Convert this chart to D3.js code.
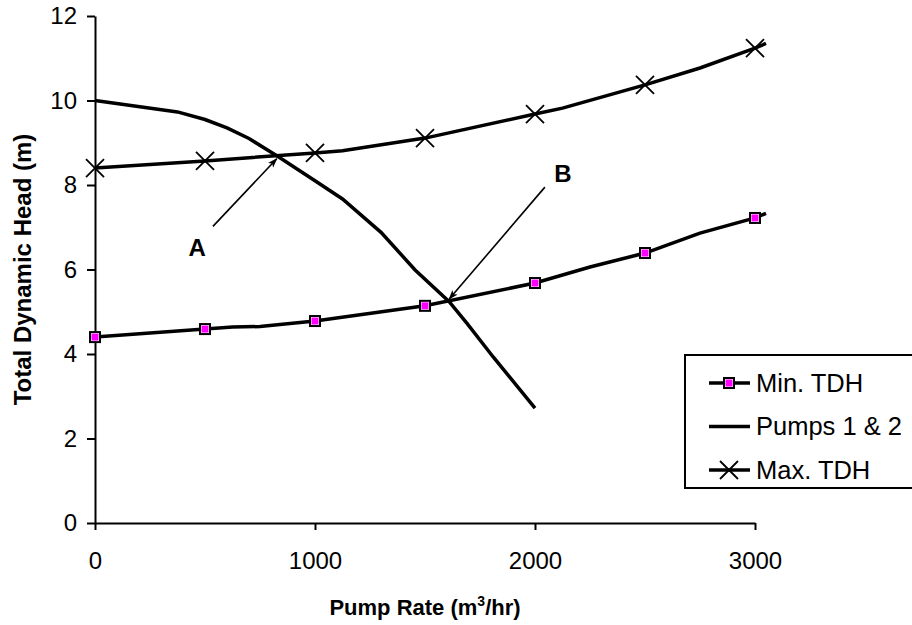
<!DOCTYPE html>
<html lang="en">
<head>
<meta charset="UTF-8">
<title>Pump curves</title>
<script src="https://d3js.org/d3.v7.min.js"></script>
<style>
body { margin: 0; background: #fff; }
svg { display: block; font-family: "Liberation Sans", Arial, sans-serif; }
.axis path, .axis line { stroke: #000; stroke-width: 2; }
.axis text { font-size: 24px; fill: #000; }
.title { font-weight: bold; }
</style>
</head>
<body>
<svg width="912" height="625"></svg>
<script>
// marker points (every 500 m3/hr)
const markerRates = [0, 500, 1000, 1500, 2000, 2500, 3000];
const minTDH = [4.40, 4.59, 4.78, 5.14, 5.68, 6.39, 7.22];
const maxTDH = [8.40, 8.57, 8.76, 9.11, 9.68, 10.37, 11.24];

// line points (the plotted curves carry a few extra points between markers)
const minLineRates = [0, 500, 625, 750, 1000, 1500, 2000, 2250, 2500, 2750, 3000, 3050];
const minLineHead  = [4.40, 4.59, 4.64, 4.65, 4.78, 5.14, 5.68, 6.06, 6.39, 6.86, 7.22, 7.33];
const maxLineRates = [0, 500, 1000, 1125, 1500, 2000, 2125, 2500, 2750, 3000, 3050];
const maxLineHead  = [8.40, 8.57, 8.76, 8.81, 9.11, 9.68, 9.82, 10.37, 10.77, 11.24, 11.35];
const pumpRates = [0, 375, 500, 600, 700, 830, 1000, 1125, 1300, 1455, 1610, 1690, 1810, 2000];
const pumpHead  = [10.0, 9.73, 9.55, 9.35, 9.10, 8.68, 8.10, 7.67, 6.88, 5.99, 5.24, 4.73, 3.93, 2.72];

const xTicks = [0, 1000, 2000, 3000];
const yTicks = [0, 2, 4, 6, 8, 10, 12];

// annotations: label, label position, arrow start, arrow tip (data units)
const notes = [
  {label: "A", at: [464, 6.53], from: [536, 7.02], to: [826, 8.62]},
  {label: "B", at: [2127, 8.28], from: [2045, 7.95], to: [1610, 5.30]}
];
const legendItems = ["Min. TDH", "Pumps 1 & 2", "Max. TDH"];

const margin = {top: 16, left: 95};
const width = 660, height = 507;

const svg = d3.select("svg");
const defs = svg.append("defs");
defs.append("marker")
    .attr("id", "arrow")
    .attr("viewBox", "0 0 10 10")
    .attr("refX", 9).attr("refY", 5)
    .attr("markerWidth", 10).attr("markerHeight", 10)
    .attr("markerUnits", "userSpaceOnUse")
    .attr("orient", "auto")
    .append("path")
    .attr("d", "M0,1.5 L10,5 L0,8.5 L2.5,5 Z")
    .attr("fill", "#000");

const g = svg.append("g").attr("transform", `translate(${margin.left},${margin.top})`);

const x = d3.scaleLinear().domain([0, 3000]).range([0, width]);
const y = d3.scaleLinear().domain([0, 12]).range([height, 0]);

// axes
g.append("g")
    .attr("class", "axis")
    .attr("transform", `translate(0,${height})`)
    .call(d3.axisBottom(x).tickValues(xTicks).tickFormat(d3.format("d"))
        .tickSize(7).tickPadding(22).tickSizeOuter(0))
    .call(a => a.selectAll("text").attr("dy", "0.71em"));

g.append("g")
    .attr("class", "axis")
    .call(d3.axisLeft(y).tickValues(yTicks).tickSize(8).tickPadding(10).tickSizeOuter(0));

const line = d3.line().x(d => x(d[0])).y(d => y(d[1]));

// series lines
g.append("path")
    .datum(d3.zip(minLineRates, minLineHead))
    .attr("d", line).attr("fill", "none").attr("stroke", "#000").attr("stroke-width", 3.5);
g.append("path")
    .datum(d3.zip(pumpRates, pumpHead))
    .attr("d", line).attr("fill", "none").attr("stroke", "#000").attr("stroke-width", 3.5);
g.append("path")
    .datum(d3.zip(maxLineRates, maxLineHead))
    .attr("d", line).attr("fill", "none").attr("stroke", "#000").attr("stroke-width", 3.5);

// markers
function squareMark(sel) {
  sel.append("rect").attr("x", -5).attr("y", -5).attr("width", 10).attr("height", 10)
     .attr("fill", "#fff").attr("stroke", "#000").attr("stroke-width", 2);
  sel.append("rect").attr("x", -3.5).attr("y", -3.5).attr("width", 7).attr("height", 7)
     .attr("fill", "#ff00ff");
}
function crossMark(sel) {
  sel.append("path").attr("d", "M-9,-9L9,9M-9,9L9,-9")
     .attr("stroke", "#000").attr("stroke-width", 1.8).attr("fill", "none");
}

g.selectAll(".minMark")
  .data(d3.zip(markerRates, minTDH))
  .join("g")
  .attr("class", "minMark")
  .attr("transform", d => `translate(${x(d[0])},${y(d[1])})`)
  .call(squareMark);

g.selectAll(".maxMark")
  .data(d3.zip(markerRates, maxTDH))
  .join("g")
  .attr("class", "maxMark")
  .attr("transform", d => `translate(${x(d[0])},${y(d[1])})`)
  .call(crossMark);

// annotations
notes.forEach(n => {
  g.append("line")
    .attr("x1", x(n.from[0])).attr("y1", y(n.from[1]))
    .attr("x2", x(n.to[0])).attr("y2", y(n.to[1]))
    .attr("stroke", "#000").attr("stroke-width", 1.6)
    .attr("marker-end", "url(#arrow)");
  g.append("text")
    .attr("x", x(n.at[0])).attr("y", y(n.at[1]))
    .attr("dy", "0.36em")
    .attr("text-anchor", "middle")
    .attr("font-weight", "bold").attr("font-size", 24)
    .text(n.label);
});

// axis titles
const xt = svg.append("text")
    .attr("class", "title")
    .attr("font-size", 22)
    .attr("x", margin.left + width / 2)
    .attr("y", 615)
    .attr("text-anchor", "middle");
xt.append("tspan").text("Pump Rate (m");
xt.append("tspan").attr("font-size", 14).attr("dy", -9).text("3");
xt.append("tspan").attr("dy", 9).text("/hr)");

svg.append("text")
    .attr("class", "title")
    .attr("font-size", 24)
    .attr("transform", `translate(31,${margin.top + height / 2}) rotate(-90)`)
    .attr("text-anchor", "middle")
    .text("Total Dynamic Head (m)");

// legend
const legend = svg.append("g").attr("transform", "translate(685,355)");
legend.append("rect")
    .attr("width", 240).attr("height", 133)
    .attr("fill", "#fff").attr("stroke", "#000").attr("stroke-width", 2);

const rows = legend.selectAll(".row")
    .data(legendItems)
    .join("g")
    .attr("class", "row")
    .attr("transform", (d, i) => `translate(0,${28 + i * 43.5})`);
rows.append("line")
    .attr("x1", 24).attr("x2", 65)
    .attr("stroke", "#000").attr("stroke-width", 3.5);
rows.append("text")
    .attr("x", 71).attr("dy", "0.35em")
    .attr("font-size", 25.5)
    .text(d => d);
rows.filter((d, i) => i === 0).append("g")
    .attr("transform", "translate(44,0)")
    .call(squareMark);
rows.filter((d, i) => i === 2).append("g")
    .attr("transform", "translate(44,0)")
    .call(crossMark);
</script>
</body>
</html>
